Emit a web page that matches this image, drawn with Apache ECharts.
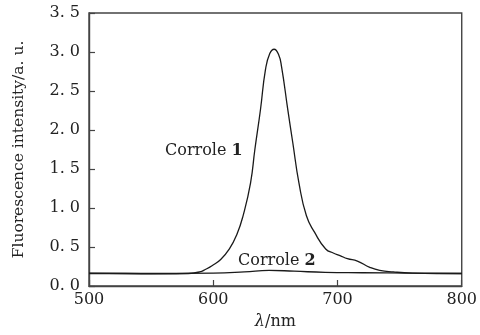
<!DOCTYPE html>
<html>
<head>
<meta charset="utf-8">
<script src="https://cdn.jsdelivr.net/npm/echarts@6/dist/echarts.min.js"></script>
<style>html,body{margin:0;padding:0;background:#fff}#c{width:480px;height:335px}</style>
</head>
<body>
<div id="c"></div>
<script>
// wavelength (nm) and intensity (a.u.)
var corrole1X = [500,530,560,580,589,594,599,606,613,619,624,630,633.5,638,642,645.5,649,652.5,655,660,664,669,675,681.5,690.5,697,702,708,716,726,734,745,760,780,800];
var corrole1Y = [0.165,0.16,0.155,0.16,0.18,0.215,0.26,0.34,0.475,0.66,0.9,1.32,1.75,2.26,2.77,2.98,3.035,2.97,2.81,2.26,1.84,1.32,0.9,0.69,0.475,0.42,0.39,0.35,0.32,0.24,0.2,0.18,0.165,0.16,0.16];
var corrole2X = [500,550,600,625,645,665,690,720,760,800];
var corrole2Y = [0.16,0.16,0.165,0.18,0.2,0.19,0.175,0.17,0.165,0.16];
var seriesNames = ['Corrole 1','Corrole 2'];
var xTicks = [500,600,700,800];
var yTicks = [0,0.5,1,1.5,2,2.5,3,3.5];

function pairs(xs, ys){ return xs.map(function(x,i){ return [x, ys[i]]; }); }
var FONT = 'DejaVu Serif';
var ink = '#222';

var chart = echarts.init(document.getElementById('c'));
chart.setOption({
  animation: false,
  backgroundColor: '#fff',
  grid: {left: 89, right: 14, top: 13, bottom: 47, show: true, borderColor: '#444', borderWidth: 1.4, backgroundColor: 'transparent'},
  xAxis: {
    type: 'value', min: xTicks[0], max: xTicks[xTicks.length-1], interval: 100,
    name: '{i|λ}/nm', nameLocation: 'middle', nameGap: 28,
    nameTextStyle: {fontFamily: FONT, fontSize: 16, color: ink, rich: {i: {fontFamily: FONT, fontStyle: 'italic', fontSize: 16, color: ink}}},
    axisLine: {lineStyle: {color: '#444', width: 1.4}},
    axisTick: {inside: true, length: 6, lineStyle: {color: '#444', width: 1.2}},
    axisLabel: {fontFamily: FONT, fontSize: 16, color: ink, margin: 6},
    splitLine: {show: false}
  },
  yAxis: {
    type: 'value', min: yTicks[0], max: yTicks[yTicks.length-1], interval: 0.5,
    name: 'Fluorescence intensity/a. u.', nameLocation: 'middle', nameGap: 62,
    nameTextStyle: {fontFamily: FONT, fontSize: 15.5, color: ink},
    axisLine: {lineStyle: {color: '#444', width: 1.4}},
    axisTick: {inside: true, length: 6, lineStyle: {color: '#444', width: 1.2}},
    axisLabel: {fontFamily: FONT, fontSize: 16, color: ink, margin: 9,
      formatter: function(v){ return v.toFixed(1).replace('.', '. '); }},
    splitLine: {show: false}
  },
  series: [
    {name: seriesNames[0], type: 'line', data: pairs(corrole1X, corrole1Y), smooth: 0.5, showSymbol: false,
     lineStyle: {color: '#1a1a1a', width: 1.3}},
    {name: seriesNames[1], type: 'line', data: pairs(corrole2X, corrole2Y), smooth: 0.5, showSymbol: false,
     lineStyle: {color: '#1a1a1a', width: 1.3}}
  ],
  graphic: [
    {type: 'text', left: 165, top: 143, style: {text: 'Corrole {b|1}', fontFamily: FONT, fontSize: 16, fill: ink,
      rich: {b: {fontFamily: FONT, fontSize: 16, fontWeight: 'bold', color: ink}}}},
    {type: 'text', left: 238, top: 253, style: {text: 'Corrole {b|2}', fontFamily: FONT, fontSize: 16, fill: ink,
      rich: {b: {fontFamily: FONT, fontSize: 16, fontWeight: 'bold', color: ink}}}}
  ]
});
</script>
</body>
</html>
